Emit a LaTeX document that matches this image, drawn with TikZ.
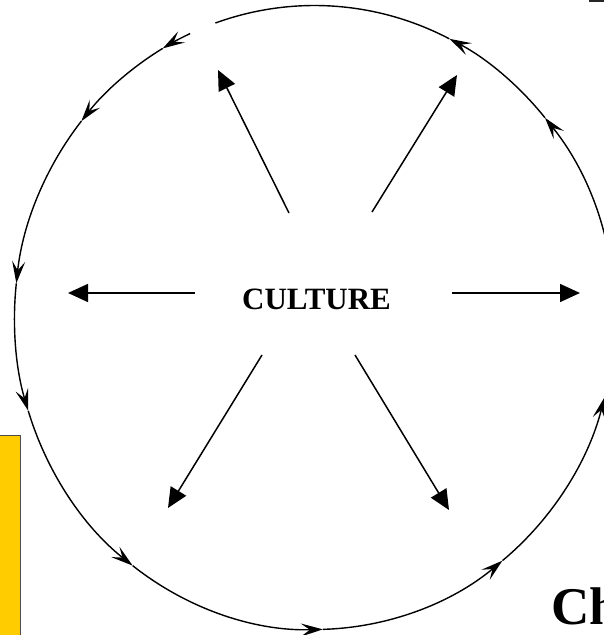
\documentclass[tikz,border=0pt]{standalone}
\usepackage{fontspec}
\setmainfont{Liberation Serif}
\usetikzlibrary{arrows.meta}
\definecolor{boxgold}{RGB}{255,204,0}
\tikzset{
  ring/.style={line width=1.4pt, -{Stealth[length=22pt,width=13pt,inset=9pt]}},
  spoke/.style={line width=1.5pt, -{Triangle[length=20pt,width=18pt]}},
}

\begin{document}
\begin{tikzpicture}[x=1pt,y=1pt]
  \useasboundingbox (0,0) rectangle (604,635);
  % side box and cut-off title
  \filldraw[fill=boxgold, draw=black!70, line width=1pt] (-5,-5) rectangle (20.5,199);
  \fill[black!85] (589,633.3) rectangle (610,640);
  \node[anchor=base west, inner sep=0, font=\bfseries\fontsize{53}{60}\selectfont] (ch) at (551.5,10) {Ch};
  % centre label
  \node[anchor=base, inner sep=0, font=\bfseries\fontsize{31}{36}\selectfont] (culture) at (316.5,325) {CULTURE};
  % ring of arrows
  \foreach \a/\b in {114.5/120.4, 120.4/141, 141/173.7, 173.7/197.4, 197.4/232.7,
                     232.7/271.6, 271.6/308.8, 308.8/345.2, 345.2/399.8, 399.8/423.3}
    \draw[ring] ([shift={(314.5,317.5)}]\a:300 and 312)
      arc[start angle=\a, end angle=\b, x radius=300, y radius=312];
  \draw[line width=1.4pt] ([shift={(314.5,317.5)}]423.3:300 and 312)
    arc[start angle=423.3, end angle=469.3, x radius=300, y radius=312];
  % spokes
  \coordinate (ul0) at (289,422); \coordinate (ul1) at (218,565);
  \coordinate (ur0) at (372,423); \coordinate (ur1) at (457,560);
  \coordinate (l0) at (195,342);  \coordinate (l1) at (68,342);
  \coordinate (r0) at (452,342);  \coordinate (r1) at (580,342);
  \coordinate (dl0) at (262,280); \coordinate (dl1) at (168,127);
  \coordinate (dr0) at (355,280); \coordinate (dr1) at (449,125);
  \foreach \s in {ul,ur,l,r,dl,dr}
    \draw[spoke] (\s0) -- (\s1);
\end{tikzpicture}
\end{document}
